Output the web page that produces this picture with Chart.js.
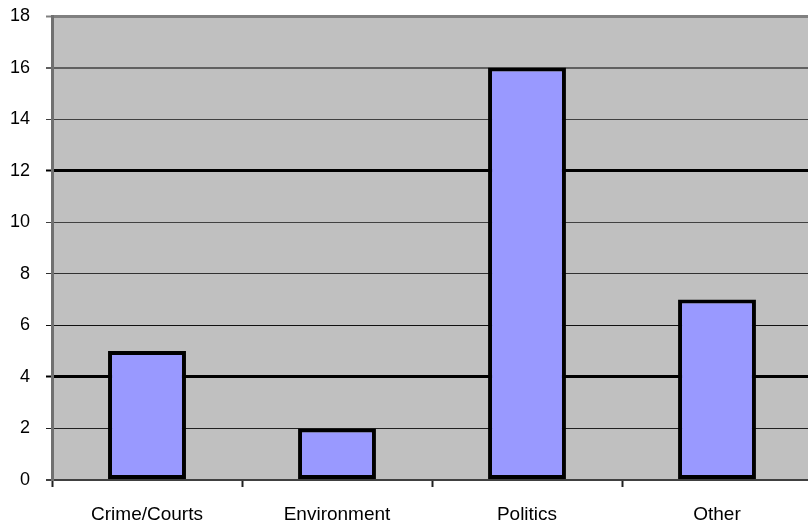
<!DOCTYPE html>
<html>
<head>
<meta charset="utf-8">
<script src="https://cdn.jsdelivr.net/npm/chart.js@4.4.1/dist/chart.umd.min.js"></script>
<style>
  html, body { margin: 0; padding: 0; background: #fff; overflow: hidden; }
  #wrap { width: 812px; height: 527px; }
</style>
</head>
<body>
<div id="wrap"><canvas id="chart"></canvas></div>
<script>
const categories = ['Crime/Courts', 'Environment', 'Politics', 'Other'];
const counts = [5, 2, 16, 7];
const yMin = 0, yMax = 18, yStep = 2;

// line weight and shade of each horizontal rule, by value
const gridWidths = { 0: 2, 2: 1, 4: 3, 6: 1, 8: 1, 10: 1, 12: 3, 14: 1, 16: 2, 18: 3 };
const gridColors = { 0: '#404040', 2: '#202020', 4: '#000000', 6: '#101010', 8: '#303030',
                     10: '#404040', 12: '#000000', 14: '#404040', 16: '#606060', 18: '#808080' };

const plotBackground = {
  id: 'plotBackground',
  beforeDraw(chart) {
    const { ctx, chartArea: a } = chart;
    ctx.save();
    ctx.fillStyle = '#C0C0C0';
    ctx.fillRect(a.left, a.top, a.right - a.left, a.bottom - a.top);
    ctx.restore();
  }
};

new Chart(document.getElementById('chart').getContext('2d'), {
  type: 'bar',
  data: {
    labels: categories,
    datasets: [{
      data: counts,
      backgroundColor: '#9999FF',
      borderColor: '#000000',
      borderWidth: 4,
      borderSkipped: false,
      barPercentage: 0.41,
      categoryPercentage: 1
    }]
  },
  options: {
    responsive: true,
    maintainAspectRatio: false,
    animation: false,
    layout: { padding: { top: 16, right: 0, bottom: 0, left: 0 } },
    plugins: { legend: { display: false }, tooltip: { enabled: false } },
    scales: {
      x: {
        offset: true,
        grid: {
          offset: true,
          drawOnChartArea: false,
          tickLength: 7,
          tickColor: '#202020',
          tickWidth: 2
        },
        border: { color: '#404040', width: 2 },
        ticks: {
          color: '#000',
          padding: 16,
          font: { family: '"Liberation Sans", Arial, sans-serif', size: 19 }
        },
        afterFit(scale) { scale.height = 47; }
      },
      y: {
        min: yMin,
        max: yMax,
        ticks: {
          stepSize: yStep,
          color: '#000',
          padding: 16,
          font: { family: '"Liberation Sans", Arial, sans-serif', size: 18 }
        },
        grid: {
          tickLength: 6,
          lineWidth: c => gridWidths[c.tick.value] ?? 1,
          color: c => gridColors[c.tick.value] ?? '#000',
          tickColor: c => gridColors[c.tick.value] ?? '#000',
          tickWidth: c => Math.min(gridWidths[c.tick.value] ?? 1, 2)
        },
        border: { color: '#707070', width: 3 },
        afterFit(scale) {
          scale.width = 52;
          scale.paddingTop = 0;
          scale.paddingBottom = 0;
        }
      }
    }
  },
  plugins: [plotBackground]
});
</script>
</body>
</html>
